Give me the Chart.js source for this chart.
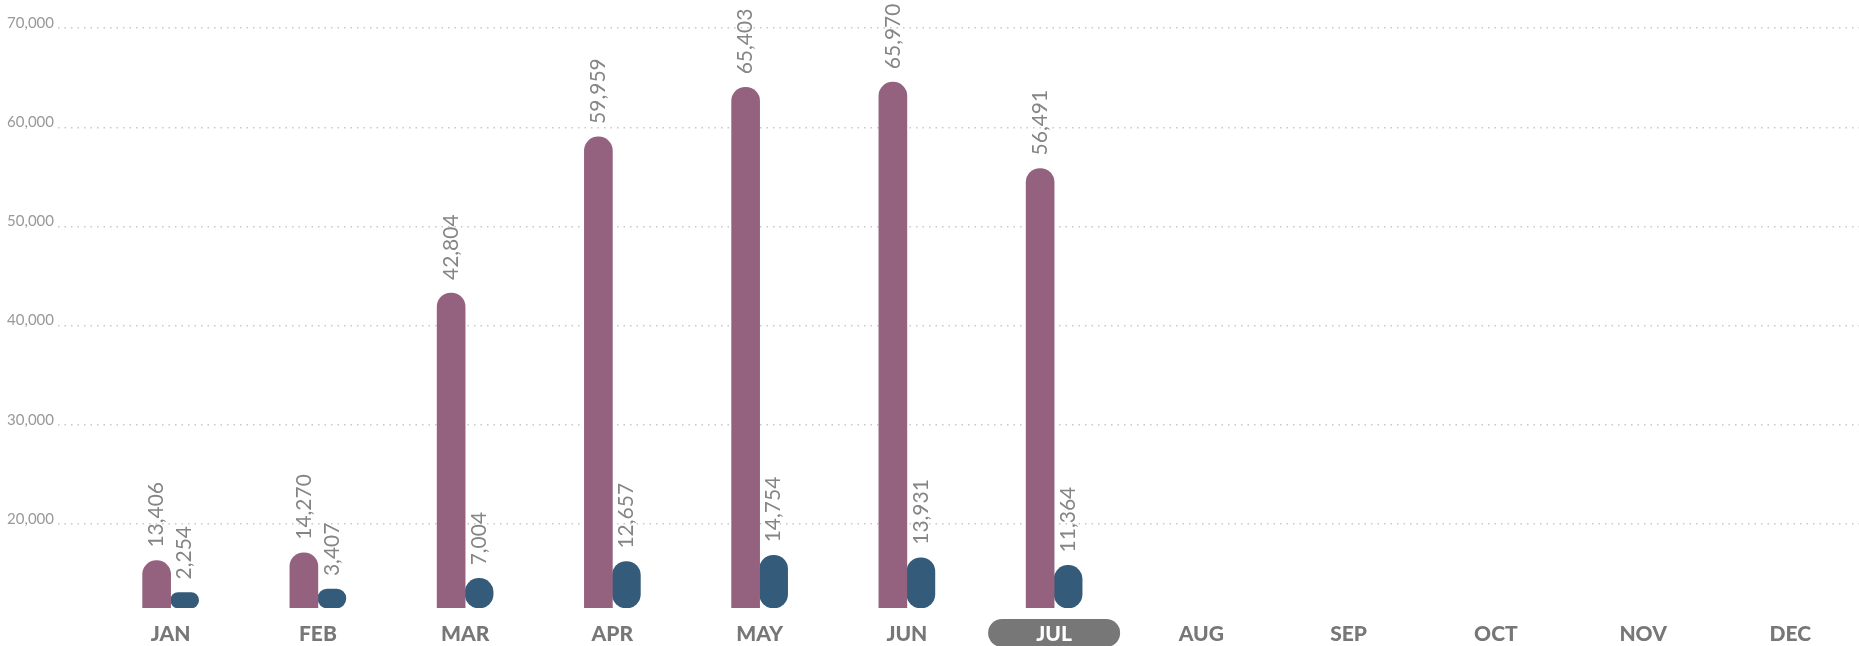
<!DOCTYPE html>
<html>
<head>
<meta charset="utf-8">
<script src="https://cdn.jsdelivr.net/npm/chart.js@4"></script>
<style>
  html, body { margin: 0; padding: 0; background: #fff; overflow: hidden; }
  #wrap { width: 1864px; height: 646px; }
</style>
</head>
<body>
<div id="wrap"><canvas id="barChart"></canvas></div>
<script>
  const months = ['JAN', 'FEB', 'MAR', 'APR', 'MAY', 'JUN', 'JUL', 'AUG', 'SEP', 'OCT', 'NOV', 'DEC'];
  const seriesA = [13406, 14270, 42804, 59959, 65403, 65970, 56491];
  const seriesB = [2254, 3407, 7004, 12657, 14754, 13931, 11364];
  const yTickValues = [20000, 30000, 40000, 50000, 60000, 70000];
  const currentMonth = 6;

  const ctx = document.getElementById('barChart').getContext('2d');
  Chart.defaults.font.family = 'Lato, "Open Sans", sans-serif';

  // value labels standing on top of each bar, rotated
  const barLabels = {
    id: 'barLabels',
    afterDatasetsDraw(chart) {
      const c = chart.ctx;
      c.save();
      c.fillStyle = '#858585';
      c.font = '21px Lato, "Open Sans", sans-serif';
      c.textAlign = 'left';
      c.textBaseline = 'middle';
      chart.data.datasets.forEach((ds, di) => {
        chart.getDatasetMeta(di).data.forEach((bar, i) => {
          if (ds.data[i] == null) return;
          c.save();
          c.translate(bar.x, bar.y - 13);
          c.rotate(-Math.PI / 2);
          c.fillText(ds.data[i].toLocaleString('en-US'), 0, 0);
          c.restore();
        });
      });
      c.restore();
    }
  };

  // grey pill behind the current month
  const monthPill = {
    id: 'monthPill',
    beforeDraw(chart) {
      const x = chart.scales.x.getPixelForValue(currentMonth);
      const c = chart.ctx;
      c.save();
      c.fillStyle = '#777777';
      c.beginPath();
      c.roundRect(x - 66, 619, 132, 28, 14);
      c.fill();
      c.restore();
    }
  };

  const chart = new Chart(ctx, {
    type: 'bar',
    data: {
      labels: months,
      datasets: [{
        data: seriesA,
        backgroundColor: '#94627e',
        yAxisID: 'yA',
        barThickness: 28,
        borderRadius: 14,
        borderSkipped: false,
        categoryPercentage: 0.462
      }, {
        data: seriesB,
        backgroundColor: '#345b79',
        yAxisID: 'yB',
        base: -2959,
        barThickness: 28,
        borderRadius: 14,
        borderSkipped: false,
        categoryPercentage: 0.462
      }]
    },
    options: {
      responsive: true,
      maintainAspectRatio: false,
      animation: false,
      layout: { padding: 0 },
      plugins: {
        legend: { display: false },
        tooltip: { enabled: false }
      },
      scales: {
        x: {
          afterFit: (scale) => { scale.height = 38; },
          grid: { display: false, drawTicks: false },
          border: { display: false },
          ticks: {
            autoSkip: false,
            maxRotation: 0,
            padding: 14,
            font: { size: 21, weight: 900 },
            color: (c) => c.index === currentMonth ? '#ffffff' : '#777777'
          }
        },
        y: {
          position: 'left',
          min: 11500,
          max: 72850,
          afterBuildTicks: (scale) => { scale.ticks = yTickValues.map(v => ({ value: v })); },
          afterFit: (scale) => { scale.width = 97; scale.paddingTop = 0; scale.paddingBottom = 0; },
          grid: {
            color: '#c8c8c8',
            lineWidth: 1.5,
            tickLength: 39,
            tickBorderDash: [1.5, 5]
          },
          border: { display: false, dash: [1.5, 5] },
          ticks: {
            padding: 4,
            labelOffset: -5,
            color: '#999999',
            font: { size: 15 }
          }
        },
        yA: { display: false, min: 8200, max: 75000 },
        yB: { display: false, min: -2959, max: 201479 }
      }
    },
    plugins: [monthPill, barLabels]
  });
</script>
</body>
</html>
